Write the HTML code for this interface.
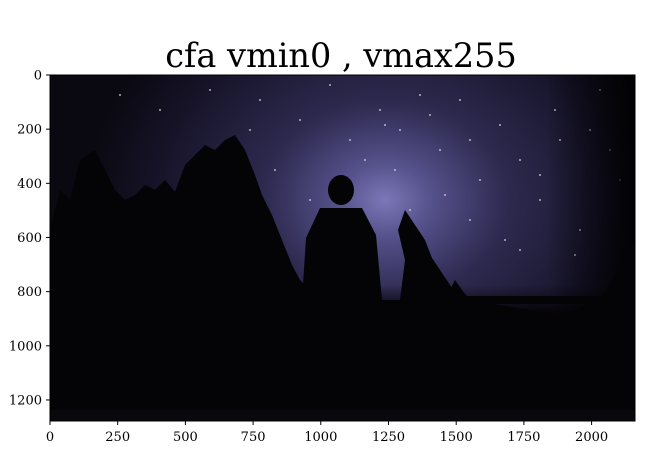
<!DOCTYPE html>
<html><head><meta charset="utf-8"><style>
html,body{margin:0;padding:0;background:#fff;}
svg{display:block;}
text{font-family:"DejaVu Serif","Liberation Serif",serif;}
</style></head><body>
<svg id="chart" width="670" height="472" viewBox="0 0 670 472" xmlns="http://www.w3.org/2000/svg">
<defs>
<radialGradient id="glow" cx="385" cy="200" r="300" gradientUnits="userSpaceOnUse" gradientTransform="translate(385 200) scale(1 0.8) translate(-385 -200)">
<stop offset="0" stop-color="#7c78b8"/>
<stop offset="0.15" stop-color="#56528c"/>
<stop offset="0.4" stop-color="#2e2a50"/>
<stop offset="0.75" stop-color="#17142a"/>
<stop offset="1" stop-color="#0a0810"/>
</radialGradient>
<linearGradient id="ground" x1="0" y1="0" x2="0" y2="1">
<stop offset="0" stop-color="#0c0a10" stop-opacity="0"/>
<stop offset="0.2" stop-color="#060407"/>
<stop offset="1" stop-color="#050306"/>
</linearGradient>
<linearGradient id="rightfade" x1="0" y1="0" x2="1" y2="0">
<stop offset="0.85" stop-color="#000" stop-opacity="0"/>
<stop offset="1" stop-color="#000" stop-opacity="0.9"/>
</linearGradient>
<clipPath id="imgclip"><rect x="50" y="75" width="585" height="346"/></clipPath>
</defs>
<text x="341" y="67" font-size="33.5" text-anchor="middle" fill="#000">cfa vmin0 , vmax255</text>
<g clip-path="url(#imgclip)">
<rect x="50" y="75" width="585" height="346" fill="url(#glow)"/>
<g id="stars" fill="#ddd"></g>
<rect x="50" y="285" width="585" height="136" fill="url(#ground)"/>
<rect x="50" y="75" width="585" height="346" fill="url(#rightfade)"/>
<g fill="#040305">
<polygon points="50,230 60,190 70,200 80,160 95,150 105,170 115,190 125,200 135,195 145,185 155,190 165,180 175,192 185,165 195,155 205,145 215,150 225,140 235,135 245,150 255,175 262,195 272,215 282,240 292,265 300,280 310,290 330,300 400,300 405,260 398,230 405,210 415,225 425,240 432,258 440,270 450,285 460,300 500,305 560,315 600,300 615,275 625,255 635,240 635,421 50,421"/>
<polygon points="445,300 455,280 462,290 470,300"/>
<ellipse cx="341" cy="190" rx="13" ry="15"/>
<polygon points="320,208 362,208 376,235 382,300 380,421 305,421 302,300 306,238"/>
<rect x="420" y="296" width="195" height="8"/>
</g>
<rect x="50" y="410" width="585" height="11" fill="#0e0b12" opacity="0.6"/>
</g>
<rect x="50" y="75" width="585" height="346" fill="none" stroke="#000" stroke-width="1"/>
<g id="axes" font-size="13" fill="#000"></g>
<script>
const xTicks=[0,250,500,750,1000,1250,1500,1750,2000];
const yTicks=[0,200,400,600,800,1000,1200];
const starX=[120,160,210,260,300,330,350,380,400,420,440,460,480,500,520,540,560,580,600,620,395,410,470,520,590,445,505,555,610,365,385,430,470,540,575,275,310,250];
const starY=[95,110,90,100,120,85,140,110,130,95,150,100,180,125,160,200,140,230,90,180,170,210,220,250,130,195,240,110,150,160,125,115,140,175,255,170,200,130];
const x0=50,y0=75,s=0.2708;
const xs=v=>x0+v*s, ys=v=>y0+v*s;
const NS='http://www.w3.org/2000/svg';
const axes=document.getElementById('axes');
xTicks.forEach(v=>{
  const l=document.createElementNS(NS,'line');
  l.setAttribute('x1',xs(v));l.setAttribute('x2',xs(v));l.setAttribute('y1',421);l.setAttribute('y2',425);l.setAttribute('stroke','#000');
  
  
  axes.appendChild(l);
  const t=document.createElementNS(NS,'text');
  t.setAttribute('x',xs(v));t.setAttribute('y',441);t.setAttribute('text-anchor','middle');t.textContent=v;
  
  
  axes.appendChild(t);
});
yTicks.forEach(v=>{
  const l=document.createElementNS(NS,'line');
  l.setAttribute('x1',46);l.setAttribute('x2',50);l.setAttribute('y1',ys(v));l.setAttribute('y2',ys(v));l.setAttribute('stroke','#000');
  
  
  axes.appendChild(l);
  const t=document.createElementNS(NS,'text');
  t.setAttribute('x',42);t.setAttribute('y',ys(v)+4.5);t.setAttribute('text-anchor','end');t.textContent=v;
  
  
  axes.appendChild(t);
});
const stars=document.getElementById('stars');
starX.forEach((x,i)=>{
  const c=document.createElementNS(NS,'circle');
  c.setAttribute('cx',x);c.setAttribute('cy',starY[i]);c.setAttribute('r',0.9);
  
  
  stars.appendChild(c);
});
</script>
</svg>
</body></html>
